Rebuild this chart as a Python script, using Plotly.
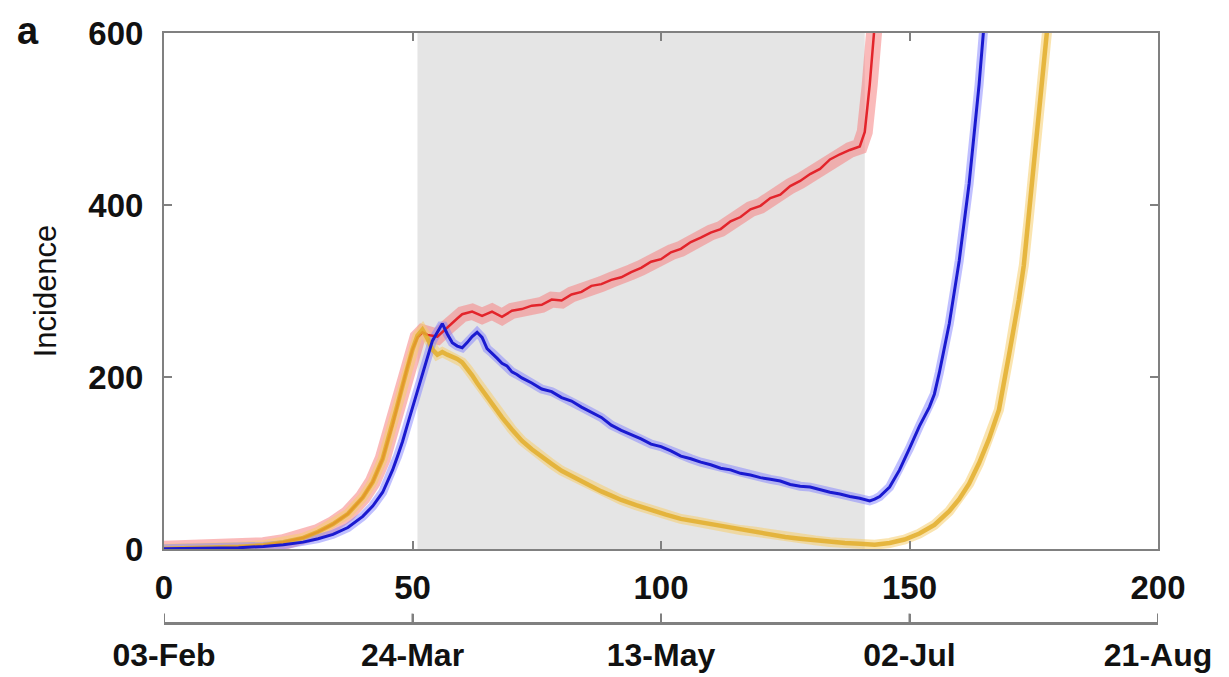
import plotly.graph_objects as go

# ---------------- data ----------------
red_days = [0, 5, 10, 15, 20, 24, 28, 31, 34, 37, 40, 42, 44, 46, 47, 48, 49, 50, 51, 52, 53, 55, 57, 59, 60,
            62, 64, 66, 68, 70, 72, 74, 76, 78, 80, 82, 84, 86, 88, 90, 92, 94, 96, 98, 100, 102, 104, 106,
            108, 110, 112, 114, 116, 118, 120, 122, 124, 126, 128, 130, 132, 134, 136, 138, 140, 141, 142, 143, 144]
red_vals = [0.3, 0.6, 1.2, 2.5, 4.5, 8, 13, 20, 29, 41, 60, 78, 105, 145, 168, 190, 212, 232, 246, 252, 249, 247, 258, 268, 273,
            276, 271, 276, 270, 277, 279, 283, 284, 290, 289, 296, 299, 306, 308, 313, 316, 322, 327, 334, 337, 345, 349, 357,
            362, 368, 372, 381, 386, 395, 399, 408, 412, 422, 428, 436, 442, 453, 459, 464, 468, 485, 540, 610, 680]

blue_days = [0, 5, 10, 15, 20, 24, 28, 31, 34, 37, 40, 42, 44, 45, 46, 47, 48, 49, 50, 51, 52, 53, 54, 55, 56, 57,
             58, 59, 60, 61, 62, 63, 64, 65, 66, 67, 68, 69, 70, 71, 72, 74, 76, 78, 80, 82, 84, 86, 88, 90, 92,
             94, 96, 98, 100, 102, 104, 106, 108, 110, 112, 114, 116, 118, 120, 122, 124, 126, 128, 130, 132, 134,
             136, 138, 140, 142, 143, 144, 146, 148, 150, 152, 154, 155, 156, 158, 160, 162, 164, 165, 166]
blue_vals = [0.2, 0.4, 0.8, 1.5, 3, 5, 8, 12, 17, 25, 38, 50, 66, 78, 92, 108, 125, 145, 165, 185, 205, 225, 242, 252, 262, 250,
             240, 236, 234, 240, 247, 252, 246, 233, 228, 222, 216, 213, 206, 203, 199, 193, 186, 183, 176, 172, 165, 159, 153, 144, 138,
             133, 128, 122, 119, 114, 108, 105, 101, 98, 94, 92, 88, 86, 83, 81, 79, 75, 73, 72, 69, 66,
             64, 61, 59, 56, 58, 61, 72, 92, 117, 143, 165, 180, 205, 262, 335, 425, 540, 610, 680]

gold_days = [0, 5, 10, 15, 20, 24, 28, 31, 34, 37, 40, 42, 44, 46, 47, 48, 49, 50, 51, 52, 53, 54, 55, 56, 57, 58, 59,
             60, 61, 62, 63, 64, 65, 66, 67, 68, 70, 72, 74, 76, 78, 80, 82, 84, 86, 88, 90, 92, 95, 98, 101, 104,
             107, 110, 113, 116, 119, 122, 125, 128, 131, 134, 137, 140, 143, 146, 149, 152, 155, 158, 160, 162,
             164, 166, 168, 170, 172, 173, 174, 176, 178, 179]
gold_vals = [0.3, 0.6, 1.2, 2.5, 4.5, 8, 13, 20, 29, 41, 60, 78, 105, 145, 168, 190, 212, 232, 248, 255, 245, 232, 226, 229, 226, 224, 221,
             217, 210, 202, 193, 185, 176, 168, 160, 153, 139, 126, 116, 107, 99, 91, 85, 78, 72, 67, 62, 57, 51, 45, 40, 35,
             32, 28, 25, 22, 20, 17, 14, 12, 10, 8, 7, 6, 5, 7, 11, 18, 28, 44, 58, 76,
             100, 128, 162, 225, 290, 330, 385, 490, 610, 680]

lockdown_start = 51
lockdown_end = 141

x_ticks = [0, 50, 100, 150, 200]
date_labels = ["03-Feb", "24-Mar", "13-May", "02-Jul", "21-Aug"]
y_ticks = [0, 200, 400, 600]

FONT = "Liberation Sans, Arial, Helvetica, sans-serif"
AXCOL = "#808080"

fig = go.Figure()

series = [
    (red_days, red_vals, "rgba(245,130,130,0.55)", 16, "#e3242b", 2.5),
    (gold_days, gold_vals, "rgba(245,205,110,0.55)", 10, "rgba(226,174,44,0.85)", 4.5),
    (blue_days, blue_vals, "rgba(130,130,255,0.5)", 9, "#1a1ad0", 3),
]
for d, v, bcol, bw, lcol, lw in series:
    fig.add_trace(go.Scatter(x=d, y=v, mode="lines", line=dict(color=bcol, width=bw),
                             hoverinfo="skip", showlegend=False))
for d, v, bcol, bw, lcol, lw in series:
    fig.add_trace(go.Scatter(x=d, y=v, mode="lines", line=dict(color=lcol, width=lw),
                             showlegend=False))

# dummy trace to instantiate the date axis (on its own thin strip)
fig.add_trace(go.Scatter(x=x_ticks, y=[0] * len(x_ticks), xaxis="x2", yaxis="y2",
                         mode="lines", line=dict(color="rgba(0,0,0,0)", width=0),
                         showlegend=False, hoverinfo="skip"))

fig.add_shape(type="rect", xref="x", yref="y", x0=lockdown_start, x1=lockdown_end,
              y0=0, y1=600, fillcolor="#e5e5e5", line=dict(width=0), layer="below")

# date-axis baseline and upward ticks (drawn on the date axis scale)
fig.add_shape(type="line", xref="x2", yref="paper", x0=x_ticks[0], x1=x_ticks[-1],
              y0=0, y1=0, line=dict(color=AXCOL, width=2), layer="above")
for t in x_ticks:
    fig.add_shape(type="line", xref="x2", yref="paper", x0=t, x1=t, y0=0, y1=0.016,
                  line=dict(color=AXCOL, width=2), layer="above")

tickfont = dict(family=FONT, size=33, color="#111111", weight="bold")
datefont = dict(family=FONT, size=32, color="#111111", weight="bold")

W, H = 1213, 669
fig.update_layout(
    width=W, height=H,
    margin=dict(l=156, r=63, t=25, b=54),
    paper_bgcolor="white", plot_bgcolor="white",
    xaxis=dict(range=[0, 200], tickvals=x_ticks, ticks="inside", ticklen=8, tickwidth=2,
               tickcolor=AXCOL, showline=True, linecolor=AXCOL, linewidth=2, mirror="ticks",
               showgrid=False, zeroline=False, tickfont=tickfont, ticklabelstandoff=8,
               anchor="y", automargin=False),
    xaxis2=dict(range=[0, 200], tickvals=x_ticks, ticktext=date_labels, ticks="inside",
                ticklen=9, tickwidth=2, tickcolor=AXCOL, showline=True, linecolor=AXCOL,
                linewidth=2, showgrid=False, zeroline=False, tickfont=datefont,
                anchor="y2", side="bottom", ticklabelstandoff=3, automargin=False),
    yaxis=dict(range=[0, 600], tickvals=y_ticks, ticks="inside", ticklen=8, tickwidth=2,
               tickcolor=AXCOL, showline=True, linecolor=AXCOL, linewidth=2, mirror="ticks",
               showgrid=False, zeroline=False, tickfont=tickfont, domain=[0.1254, 1],
               ticklabelstandoff=12, automargin=False,
               title=dict(text="Incidence", font=dict(family=FONT, size=31, color="#111111"),
                          standoff=22)),
    yaxis2=dict(domain=[0, 0.03], range=[0, 1], showticklabels=False, showline=False,
                showgrid=False, zeroline=False, ticks="", fixedrange=True, automargin=False),
    annotations=[dict(text="<b>a</b>", xref="paper", yref="paper", x=-0.150, y=1.0424,
                      xanchor="left", yanchor="top", showarrow=False,
                      font=dict(family=FONT, size=38, color="#111111"))],
)

fig.write_html("out.html")
